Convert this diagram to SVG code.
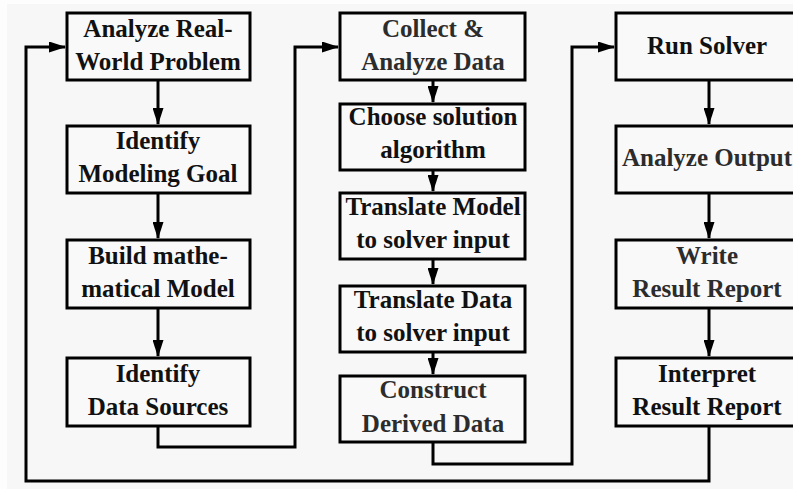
<svg xmlns="http://www.w3.org/2000/svg" width="793" height="489" viewBox="0 0 793 489">
  <style>
    .box { fill: #f9f9f9; stroke: #000; stroke-width: 3; }
    .lbl { font-family: "Liberation Serif", "Times New Roman", serif; font-weight: bold; font-size: 25px; fill: #111; text-anchor: middle; }
    .soft { fill: #2c2c2c; }
    .edge { fill: none; stroke: #000; stroke-width: 3; stroke-linejoin: miter; }
  </style>
  <defs>
    <marker id="arrow" viewBox="0 0 17 11" refX="16" refY="5.5" markerWidth="17" markerHeight="11" markerUnits="userSpaceOnUse" orient="auto">
      <path d="M0,0 L17,5.5 L0,11 Z" fill="#000"/>
    </marker>
  </defs>

  <!-- page -->
  <rect x="0" y="0" width="793" height="489" fill="#fdfdfd"/>
  <rect x="7" y="4" width="786" height="485" fill="#f7f7f7"/>

  <!-- connectors -->
  <g id="connectors">
    <path class="edge" d="M158,80 V124" marker-end="url(#arrow)"/>
    <path class="edge" d="M158,193 V238" marker-end="url(#arrow)"/>
    <path class="edge" d="M158,308 V356" marker-end="url(#arrow)"/>
    <path class="edge" d="M158,426 V447 H295 V47 H338" marker-end="url(#arrow)"/>
    <path class="edge" d="M433,80 V102" marker-end="url(#arrow)"/>
    <path class="edge" d="M433,170 V191" marker-end="url(#arrow)"/>
    <path class="edge" d="M433,259 V284" marker-end="url(#arrow)"/>
    <path class="edge" d="M433,352 V374" marker-end="url(#arrow)"/>
    <path class="edge" d="M433,442 V464 H572 V47 H614" marker-end="url(#arrow)"/>
    <path class="edge" d="M709,80 V124" marker-end="url(#arrow)"/>
    <path class="edge" d="M709,193 V238" marker-end="url(#arrow)"/>
    <path class="edge" d="M709,308 V356" marker-end="url(#arrow)"/>
    <path class="edge" d="M709,426 V481 H26 V47 H65" marker-end="url(#arrow)"/>
  </g>

  <!-- left column -->
  <g id="analyze-problem">
    <rect class="box" x="67" y="13" width="183" height="67"/>
    <text class="lbl" x="158" y="37">Analyze Real-</text>
    <text class="lbl" x="158" y="70">World Problem</text>
  </g>
  <g id="modeling-goal">
    <rect class="box" x="67" y="126" width="183" height="67"/>
    <text class="lbl" x="158" y="149">Identify</text>
    <text class="lbl" x="158" y="182">Modeling Goal</text>
  </g>
  <g id="build-model">
    <rect class="box" x="67" y="240" width="183" height="68"/>
    <text class="lbl" x="158" y="264">Build mathe-</text>
    <text class="lbl" x="158" y="297">matical Model</text>
  </g>
  <g id="data-sources">
    <rect class="box" x="67" y="358" width="183" height="68"/>
    <text class="lbl" x="158" y="382">Identify</text>
    <text class="lbl" x="158" y="415">Data Sources</text>
  </g>

  <!-- middle column -->
  <g id="collect-data">
    <rect class="box" x="340" y="13" width="185" height="67"/>
    <text class="lbl soft" x="433" y="37">Collect &amp;</text>
    <text class="lbl soft" x="433" y="70">Analyze Data</text>
  </g>
  <g id="choose-algorithm">
    <rect class="box" x="340" y="104" width="185" height="66"/>
    <text class="lbl" x="433" y="125">Choose solution</text>
    <text class="lbl" x="433" y="158">algorithm</text>
  </g>
  <g id="translate-model">
    <rect class="box" x="340" y="193" width="185" height="66"/>
    <text class="lbl" x="433" y="215">Translate Model</text>
    <text class="lbl" x="433" y="248">to solver input</text>
  </g>
  <g id="translate-data">
    <rect class="box" x="340" y="286" width="185" height="66"/>
    <text class="lbl" x="433" y="308">Translate Data</text>
    <text class="lbl" x="433" y="341">to solver input</text>
  </g>
  <g id="derived-data">
    <rect class="box" x="340" y="376" width="185" height="66"/>
    <text class="lbl soft" x="433" y="398">Construct</text>
    <text class="lbl soft" x="433" y="432">Derived Data</text>
  </g>

  <!-- right column -->
  <g id="run-solver">
    <rect class="box" x="616" y="13" width="186" height="67"/>
    <text class="lbl" x="707" y="54">Run Solver</text>
  </g>
  <g id="analyze-output">
    <rect class="box" x="616" y="126" width="186" height="67"/>
    <text class="lbl soft" x="707" y="166">Analyze Output</text>
  </g>
  <g id="write-report">
    <rect class="box" x="616" y="240" width="186" height="68"/>
    <text class="lbl soft" x="707" y="264">Write</text>
    <text class="lbl soft" x="707" y="297">Result Report</text>
  </g>
  <g id="interpret-report">
    <rect class="box" x="616" y="358" width="186" height="68"/>
    <text class="lbl" x="707" y="382">Interpret</text>
    <text class="lbl" x="707" y="415">Result Report</text>
  </g>
</svg>
